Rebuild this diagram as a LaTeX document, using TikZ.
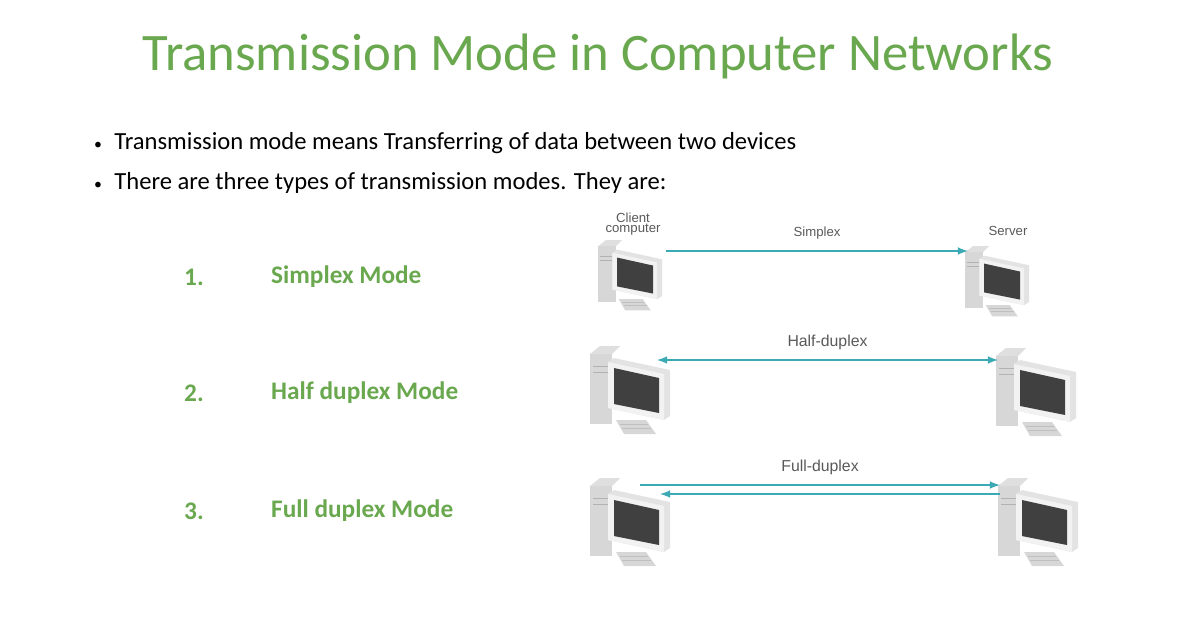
\documentclass[tikz,border=0pt]{standalone}
\usepackage{fontspec}
\setmainfont{Carlito}
\newfontfamily\labelfont{Liberation Sans}
\usetikzlibrary{positioning}
\definecolor{titlegreen}{RGB}{106,168,79}
\definecolor{linkcyan}{RGB}{60,170,180}
\definecolor{pcgray}{RGB}{215,215,215}

\tikzset{
  pc/.pic={
    % tower
    \fill[pcgray!80] (0,18)--(10,10)--(30,10)--(22,18)--cycle;
    \fill[pcgray] (0,18) rectangle (22,88);
    \draw[gray!60,thin] (3,30)--(19,30) (3,36)--(19,36);
    % monitor
    \fill[pcgray!70] (18,26)--(24,22)--(80,34)--(80,80)--(74,84)--(18,72)--cycle;
    \fill[white!90!gray] (18,26)--(74,38)--(74,84)--(18,72)--cycle;
    \fill[black!75] (24,32)--(69,42)--(69,77)--(24,68)--cycle;
    % keyboard
    \fill[pcgray] (26,84)--(56,84)--(66,98)--(34,98)--cycle;
    \draw[gray!50,thin] (30,88)--(58,88) (32,92)--(61,92);
  },
  small/.style={font=\labelfont\fontsize{7.5}{8}\selectfont,text=black!65},
  item/.style={font=\bfseries\fontsize{14.4}{16}\selectfont,text=titlegreen,anchor=west},
  bullet/.style={font=\fontsize{14}{16}\selectfont,anchor=west},
  link/.style={linkcyan,line width=1pt,-latex},
}

\begin{document}
\begin{tikzpicture}[x=0.02cm,y=-0.02cm]
\useasboundingbox (0,0) rectangle (1196,628);
\node[font=\fontsize{30}{36}\selectfont,text=titlegreen] (title) at (598,56) {Transmission Mode in Computer Networks};
\node[bullet] (b1) at (88,143) {{\small\textbullet}\enspace Transmission mode means Transferring of data between two devices};
\node[bullet] (b2) at (88,183) {{\small\textbullet}\enspace There are three types of transmission modes. They are:};

\node[item] (n1) at (178,277) {1.};
\node[item] (m1) at (265,277) {Simplex Mode};
\node[item] (n2) at (178,393) {2.};
\node[item] (m2) at (265,393) {Half duplex Mode};
\node[item] (n3) at (178,511) {3.};
\node[item] (m3) at (265,511) {Full duplex Mode};

% computers
\pic[scale=0.8] at (598,232) {pc};
\pic[scale=0.8] at (965,238) {pc};
\pic at (590,336) {pc};
\pic at (996,338) {pc};
\pic at (590,468) {pc};
\pic at (998,468) {pc};

\node[small,align=center] (client) at (633,224) {Client\\[-2pt]computer};
\node[small] (server) at (1008,231) {Server};

\coordinate (s1) at (666,251); \coordinate (t1) at (968,251);
\coordinate (s2) at (657,360); \coordinate (t2) at (998,360);
\coordinate (s3) at (640,485); \coordinate (t3) at (1000,485);
\coordinate (s4) at (1000,494); \coordinate (t4) at (660,494);

\draw[link] (s1) -- node[small,above=3pt] {Simplex} (t1);
\draw[link,latex-latex] (s2) -- node[small,font=\labelfont\fontsize{9}{10}\selectfont,above=2pt] {Half-duplex} (t2);
\draw[link] (s3) -- node[small,font=\labelfont\fontsize{9}{10}\selectfont,above=2pt] {Full-duplex} (t3);
\draw[link] (s4) -- (t4);
\end{tikzpicture}
\end{document}
